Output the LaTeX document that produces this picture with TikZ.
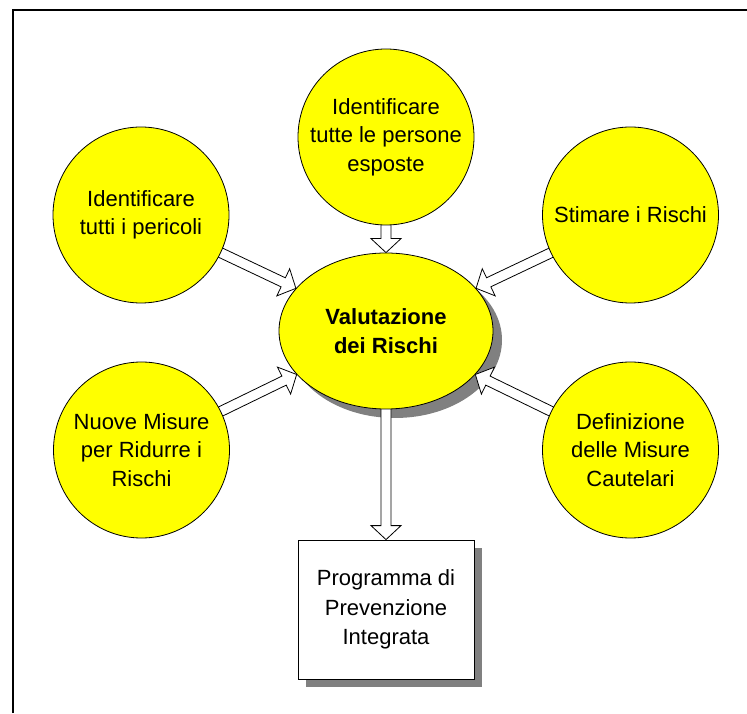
\documentclass[tikz,border=0pt]{standalone}
\usepackage{fontspec}
\setmainfont{Liberation Sans}
\usetikzlibrary{calc}
\usetikzlibrary{shapes.geometric}
\pgfdeclarelayer{bgl}
\pgfdeclarelayer{shadowl}
\pgfdeclarelayer{arrowl}
\pgfsetlayers{bgl,shadowl,arrowl,main}
\definecolor{yel}{RGB}{255,255,0}
\definecolor{shad}{RGB}{128,128,128}
\tikzset{
  txt/.style={font=\fontsize{22}{28.5}\selectfont, align=center, text=black},
  bubble/.style={circle, draw=black, line width=0.8pt, fill=yel, minimum size=176pt, inner sep=0pt, txt},
  centre/.style={ellipse, draw=black, line width=0.8pt, fill=yel, minimum width=214pt, minimum height=156pt, inner sep=0pt, txt, font=\fontsize{22}{29}\selectfont\bfseries},
  prog/.style={rectangle, draw=black, line width=0.8pt, fill=white, minimum width=176pt, minimum height=139pt, inner sep=0pt, txt, font=\fontsize{22}{29.5}\selectfont},
  arrowline/.style={draw=black, line width=0.8pt, fill=white, line join=miter},
  frameline/.style={draw=black, line width=2pt}
}
\newcommand{\blockarr}[2]{%
  \coordinate (bh) at ($(#2)!14pt!(#1)$);
  \draw[arrowline] ($(#1)!5pt!90:(#2)$) -- ($(bh)!5pt!-90:(#1)$) -- ($(bh)!15pt!-90:(#1)$) -- (#2) -- ($(bh)!15pt!90:(#1)$) -- ($(bh)!5pt!90:(#1)$) -- ($(#1)!5pt!-90:(#2)$) -- cycle;}
\begin{document}
\begin{tikzpicture}[x=1pt,y=1pt]
\useasboundingbox (0,0) rectangle (747,713);
\begin{pgfonlayer}{bgl}
  \fill[white] (0,0) rectangle (747,713);
\end{pgfonlayer}
\draw[frameline] (12.5,0) -- (12.5,702.5) -- (747,702.5);

\node[bubble] (c1) at (141,498) {Identificare\\tutti i pericoli};
\node[bubble] (c2) at (386,576) {Identificare\\tutte le persone\\esposte};
\node[bubble] (c3) at (630.5,498) {Stimare i Rischi};
\node[bubble] (c4) at (141.5,263) {Nuove Misure\\per Ridurre i\\Rischi};
\node[bubble] (c5) at (630.5,263) {Definizione\\delle Misure\\Cautelari};
\node[centre] (v) at (386,382) {Valutazione\\dei Rischi};
\node[prog] (p) at (386,103.5) {Programma di\\Prevenzione\\Integrata};

\begin{pgfonlayer}{shadowl}
  \fill[shad] ($(v.center)+(9,-9)$) ellipse [x radius=107, y radius=78];
  \fill[shad] ($(p.south west)+(8,-8)$) rectangle ($(p.north east)+(8,-8)$);
\end{pgfonlayer}

\begin{pgfonlayer}{arrowl}
  \path (c1) -- (v) coordinate[pos=1] (t1);
  \path (c2) -- (v) coordinate[pos=1] (t2);
  \path (c3) -- (v) coordinate[pos=1] (t3);
  \path (c4) -- (v) coordinate[pos=1] (t4);
  \path (c5) -- (v) coordinate[pos=1] (t5);
  \path (v) -- (p) coordinate[pos=1] (t6);
  \blockarr{c1.center}{t1}
  \blockarr{c2.center}{t2}
  \blockarr{c3.center}{t3}
  \blockarr{c4.center}{t4}
  \blockarr{c5.center}{t5}
  \blockarr{v.center}{t6}
\end{pgfonlayer}
\end{tikzpicture}
\end{document}
